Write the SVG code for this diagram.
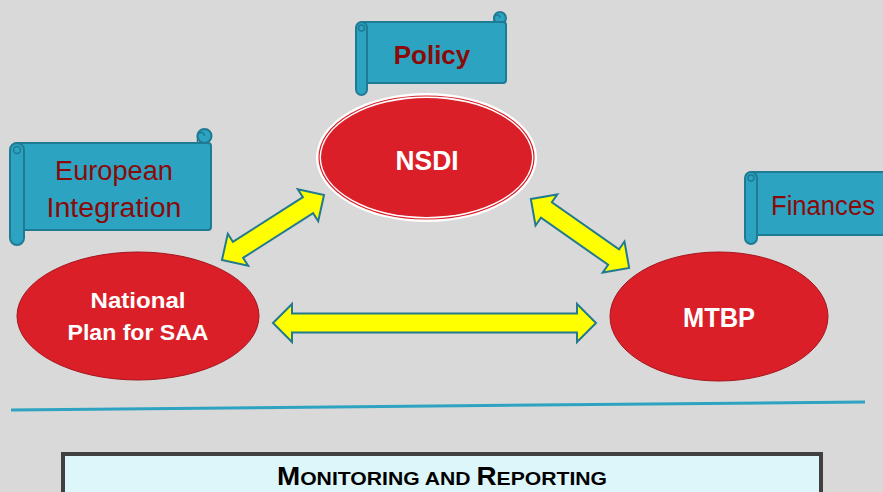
<svg xmlns="http://www.w3.org/2000/svg" width="883" height="492" viewBox="0 0 883 492">
<defs>
<style>
.scroll{fill:#2CA3C1;stroke:#1F7B93;stroke-width:2}
.curl{fill:none;stroke:#1F7B93;stroke-width:1.5}
.stxt{font-family:"Liberation Sans",Arial,sans-serif;fill:#8A0A0A;text-anchor:middle}
.etxt{font-family:"Liberation Sans",Arial,sans-serif;fill:#FFFFFF;font-weight:bold;text-anchor:middle}
.red{fill:#DA1F28;stroke:#A5161E;stroke-width:1}
.arrow{fill:#FFFF00;stroke:#237A8F;stroke-width:2;stroke-linejoin:miter}
</style>
</defs>
<rect x="0" y="0" width="883" height="492" fill="#D9D9D9"/>

<g id="connectors">
<path class="arrow" transform="translate(273 227.5) rotate(-32.5)" d="M-60.5,0 L-41.5,-19 L-41.5,-9.5 L41.5,-9.5 L41.5,-19 L60.5,0 L41.5,19 L41.5,9.5 L-41.5,9.5 L-41.5,19 Z"/>
<path class="arrow" transform="translate(580 233.5) rotate(35)" d="M-60,0 L-41,-19 L-41,-9.5 L41,-9.5 L41,-19 L60,0 L41,19 L41,9.5 L-41,9.5 L-41,19 Z"/>
<path class="arrow" d="M273,323 L292,304 L292,313.5 L577,313.5 L577,304 L596,323 L577,342 L577,332.5 L292,332.5 L292,342 Z"/>
</g>

<g id="policy">
<circle class="scroll" cx="500" cy="18" r="6"/>
<rect class="scroll" x="360" y="22" width="146" height="61" rx="3"/>
<rect class="scroll" x="356" y="22" width="11" height="73" rx="5.5"/>
<circle class="curl" cx="361.5" cy="28" r="3"/>
<path class="curl" d="M494,22 L494,18 A3,3 0 0 1 500,18"/>
<text class="stxt" x="432" y="64" font-size="26" font-weight="bold">Policy</text>
</g>

<g id="european-integration">
<circle class="scroll" cx="204.5" cy="136" r="7"/>
<rect class="scroll" x="14" y="143" width="197" height="87" rx="3"/>
<rect class="scroll" x="10" y="143" width="14" height="102" rx="7"/>
<circle class="curl" cx="17" cy="150" r="3.5"/>
<path class="curl" d="M197.5,143 L197.5,136 A3.5,3.5 0 0 1 204.5,136"/>
<text class="stxt" x="114" y="180" font-size="27" textLength="118" lengthAdjust="spacingAndGlyphs">European</text>
<text class="stxt" x="114" y="217" font-size="27" textLength="135" lengthAdjust="spacingAndGlyphs">Integration</text>
</g>

<g id="finances">
<rect class="scroll" x="749" y="172" width="140" height="63" rx="3"/>
<rect class="scroll" x="745" y="172" width="12" height="72" rx="6"/>
<circle class="curl" cx="751" cy="178" r="3"/>
<text class="stxt" x="823" y="215" font-size="27" textLength="104" lengthAdjust="spacingAndGlyphs">Finances</text>
</g>

<g id="nsdi">
<ellipse cx="426.5" cy="157.5" rx="110.5" ry="64.5" fill="#FFFFFF"/>
<ellipse cx="426.5" cy="157.5" rx="107.5" ry="61.5" fill="none" stroke="#DA1F28" stroke-width="1.2"/>
<ellipse cx="426.5" cy="157.5" rx="105.5" ry="59.5" fill="#DA1F28"/>
<text class="etxt" x="427" y="170" font-size="27" textLength="63" lengthAdjust="spacingAndGlyphs">NSDI</text>
</g>

<g id="national-plan">
<ellipse class="red" cx="138" cy="316" rx="121" ry="64"/>
<text class="etxt" x="138" y="308" font-size="22" textLength="95" lengthAdjust="spacingAndGlyphs">National</text>
<text class="etxt" x="138" y="340" font-size="22" textLength="141" lengthAdjust="spacingAndGlyphs">Plan for SAA</text>
</g>

<g id="mtbp">
<ellipse class="red" cx="719" cy="316.5" rx="109" ry="64.5"/>
<text class="etxt" x="719" y="327" font-size="27" textLength="72" lengthAdjust="spacingAndGlyphs">MTBP</text>
</g>

<line x1="11" y1="410" x2="865" y2="402" stroke="#2DA3C1" stroke-width="3"/>

<g id="monitoring">
<rect x="63" y="454" width="758" height="50" fill="#DDF6FA" stroke="#404040" stroke-width="4"/>
<text x="442" y="485" font-family="'Liberation Sans Narrow','Liberation Sans',Arial,sans-serif" font-weight="bold" fill="#000000" text-anchor="middle" textLength="330" lengthAdjust="spacingAndGlyphs"><tspan font-size="25">M</tspan><tspan font-size="19">ONITORING AND </tspan><tspan font-size="25">R</tspan><tspan font-size="19">EPORTING</tspan></text>
</g>
</svg>
